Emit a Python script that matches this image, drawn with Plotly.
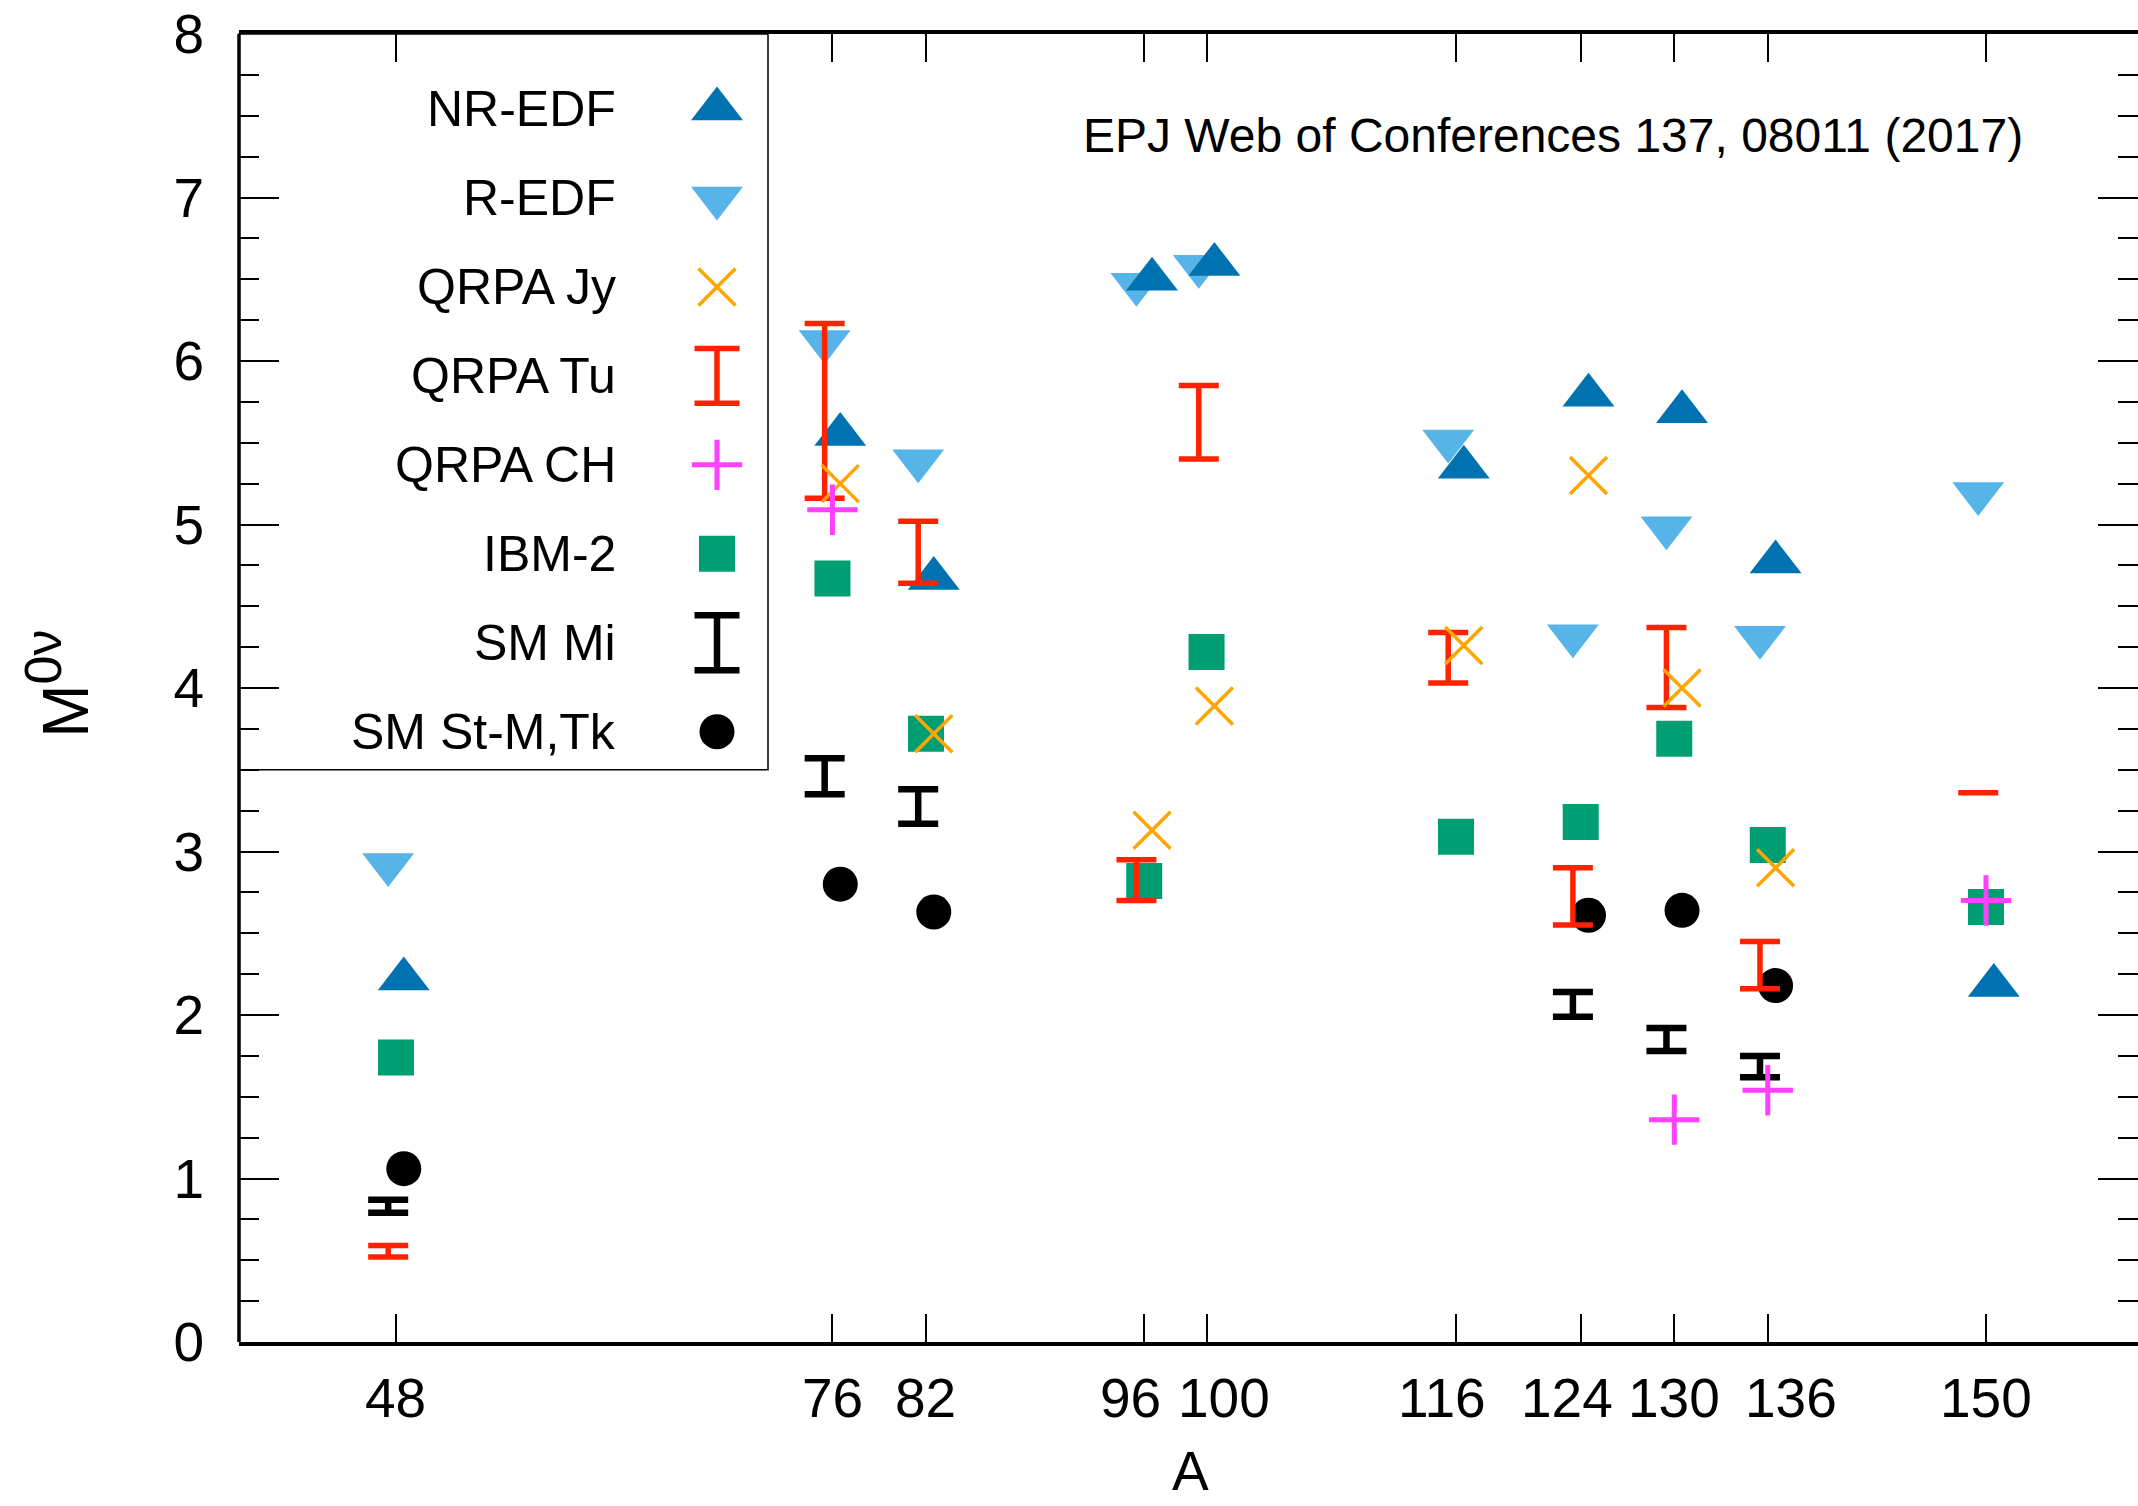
import plotly.graph_objects as go

# Mass numbers of the double-beta-decay candidates
A = [48, 76, 82, 96, 100, 116, 124, 130, 136, 150]
A_labels = ["48", "76", "82", "96", "100", "116", "124", "130", "136", "150"]

# Nuclear matrix elements M^{0nu}
nr_edf = [2.22, 5.55, 4.67, 6.50, 6.59, 5.35, 5.79, 5.69, 4.77, 2.18]
r_edf = [2.92, 6.12, 5.39, 6.47, 6.58, 5.51, 4.32, 4.98, 4.31, 5.19]

jy_A = [76, 82, 96, 100, 116, 124, 130, 136]
qrpa_jy = [5.25, 3.72, 3.13, 3.89, 4.26, 5.30, 4.00, 2.90]

# QRPA Tu: spread of results (min, max)
tu_min = [0.52, 5.16, 4.64, 2.70, 5.40, 4.03, 2.55, 3.88, 2.16, 3.36]
tu_max = [0.59, 6.23, 5.02, 2.95, 5.85, 4.34, 2.90, 4.37, 2.45, 3.36]

ch_A = [76, 130, 136, 150]
qrpa_ch = [5.09, 1.36, 1.54, 2.70]

ibm2 = [1.74, 4.67, 3.72, 2.82, 4.22, 3.09, 3.18, 3.69, 3.04, 2.66]

# Shell model Mi: spread of results (min, max)
mi_A = [48, 76, 82, 124, 130, 136]
mi_min = [0.79, 3.35, 3.17, 1.99, 1.78, 1.62]
mi_max = [0.87, 3.57, 3.38, 2.14, 1.92, 1.75]

st_A = [48, 76, 82, 124, 130, 136]
sm_st = [1.06, 2.80, 2.63, 2.61, 2.64, 2.18]

# ---- styling -------------------------------------------------------------
FONT = "Liberation Sans, Arial, Helvetica, sans-serif"
DARK_BLUE = "#0072B2"
LIGHT_BLUE = "#56B4E9"
ORANGE = "#FFA500"
RED = "#FF2200"
MAGENTA = "#FF40FF"
GREEN = "#009E73"
BLACK = "#000000"

TICK_FONT = 55
KEY_FONT = 50

# symbols are nudged sideways around each A so they do not hide each other
LEFT, MID, RIGHT = -0.5, 0.0, 0.5

# crowded tick labels are pushed apart by a few pixels
label_nudge = {96: -14, 100: 17, 116: -14, 124: -14, 136: 23}


def shifted(xs, dx):
    return [x + dx for x in xs]


def mid(lo, hi):
    return [(a + b) / 2 for a, b in zip(lo, hi)]


def half(lo, hi):
    return [(b - a) / 2 for a, b in zip(lo, hi)]


marker_nr = dict(symbol="triangle-up", size=45, color=DARK_BLUE, line=dict(width=0))
marker_r = dict(symbol="triangle-down", size=45, color=LIGHT_BLUE, line=dict(width=0))
marker_jy = dict(symbol="x-thin", size=37, color=ORANGE, line=dict(width=3.5, color=ORANGE))
marker_ch = dict(symbol="cross-thin", size=36, color=MAGENTA, line=dict(width=5, color=MAGENTA))
marker_ibm = dict(symbol="square", size=36, color=GREEN, line=dict(width=0))
marker_st = dict(symbol="circle", size=35, color=BLACK, line=dict(width=0))
marker_none = dict(size=1, color="rgba(0,0,0,0)")

bar_tu = dict(color=RED, thickness=5.5, width=20)
bar_mi = dict(color=BLACK, thickness=6.5, width=20)

fig = go.Figure()

fig.add_trace(go.Scatter(x=shifted(A, LEFT), y=r_edf, mode="markers", marker=marker_r))
fig.add_trace(go.Scatter(x=shifted(A, RIGHT), y=nr_edf, mode="markers", marker=marker_nr))
fig.add_trace(go.Scatter(x=shifted(A, MID), y=ibm2, mode="markers", marker=marker_ibm))
fig.add_trace(go.Scatter(
    x=shifted(mi_A, LEFT), y=mid(mi_min, mi_max), mode="markers", marker=marker_none,
    error_y=dict(type="data", array=half(mi_min, mi_max), symmetric=True, **bar_mi)))
fig.add_trace(go.Scatter(x=shifted(st_A, RIGHT), y=sm_st, mode="markers", marker=marker_st))
fig.add_trace(go.Scatter(
    x=shifted(A, LEFT), y=mid(tu_min, tu_max), mode="markers", marker=marker_none,
    error_y=dict(type="data", array=half(tu_min, tu_max), symmetric=True, **bar_tu)))
fig.add_trace(go.Scatter(x=shifted(jy_A, RIGHT), y=qrpa_jy, mode="markers", marker=marker_jy))
fig.add_trace(go.Scatter(x=shifted(ch_A, MID), y=qrpa_ch, mode="markers", marker=marker_ch))

# ---- key box in the upper left corner -----------------------------------
PLOT_L, PLOT_R, PLOT_T, PLOT_B = 239, 2138, 34, 1342.5
PLOT_W, PLOT_H = PLOT_R - PLOT_L, PLOT_B - PLOT_T


def px_x(px):
    return (px - PLOT_L) / PLOT_W


def px_y(py):
    return (PLOT_B - py) / PLOT_H


key_names = ["NR-EDF", "R-EDF", "QRPA Jy", "QRPA Tu", "QRPA CH", "IBM-2", "SM Mi", "SM St-M,Tk"]
key_rows = [px_y(109 + 89 * i) for i in range(len(key_names))]
key_text_x = px_x(618)
key_sym_x = px_x(717)
key_bar_half = 27.5 / PLOT_H

key_markers = {
    "NR-EDF": marker_nr, "R-EDF": marker_r, "QRPA Jy": marker_jy, "QRPA CH": marker_ch,
    "IBM-2": marker_ibm, "SM St-M,Tk": marker_st,
}
key_bars = {"QRPA Tu": dict(color=RED, thickness=5.5, width=22.5),
            "SM Mi": dict(color=BLACK, thickness=6.5, width=22.5)}

for name, ky in zip(key_names, key_rows):
    if name in key_bars:
        fig.add_trace(go.Scatter(
            x=[key_sym_x], y=[ky], mode="markers", marker=marker_none, xaxis="x2", yaxis="y2",
            error_y=dict(type="data", array=[key_bar_half], symmetric=True, **key_bars[name])))
    else:
        fig.add_trace(go.Scatter(x=[key_sym_x], y=[ky], mode="markers",
                                 marker=key_markers[name], xaxis="x2", yaxis="y2"))

annotations = [
    dict(text=name, x=key_text_x, y=ky, xref="paper", yref="paper", xanchor="right",
         yanchor="middle", showarrow=False, font=dict(size=KEY_FONT, family=FONT, color="black"))
    for name, ky in zip(key_names, key_rows)
]

# mass-number labels under the axis, placed at their A positions
annotations += [
    dict(text=lab, x=a, y=0, xref="x", yref="paper", xanchor="center", yanchor="middle",
         xshift=label_nudge.get(a, 0), yshift=-56, showarrow=False,
         font=dict(size=TICK_FONT, family=FONT, color="black"))
    for a, lab in zip(A, A_labels)
]

annotations += [
    dict(text="EPJ Web of Conferences 137, 08011 (2017)", x=px_x(1081), y=px_y(136),
         xref="paper", yref="paper", xanchor="left", yanchor="middle", showarrow=False,
         font=dict(size=48, family=FONT, color="black")),
    dict(text="A", x=px_x(1190), y=px_y(1505), xref="paper", yref="paper",
         xanchor="center", yanchor="bottom", showarrow=False,
         font=dict(size=55, family=FONT, color="black")),
    dict(text="M<sup><span style='font-size:52px'>0ν</span></sup>", x=px_x(58), y=px_y(684),
         xref="paper", yref="paper",
         xanchor="center", yanchor="middle", textangle=-90, showarrow=False,
         font=dict(size=64, family=FONT, color="black")),
]

shapes = [
    dict(type="rect", xref="paper", yref="paper", x0=0, x1=px_x(768), y0=px_y(770), y1=1,
         line=dict(color="black", width=1.5)),
    dict(type="line", xref="paper", yref="paper", x0=0, x1=0, y0=0, y1=1,
         line=dict(color="black", width=3.5)),
]

fig.update_layout(
    width=2138, height=1506,
    margin=dict(l=PLOT_L, r=0, t=PLOT_T, b=1506 - PLOT_B),
    paper_bgcolor="white", plot_bgcolor="white",
    showlegend=False,
    font=dict(family=FONT, size=48, color="black"),
    annotations=annotations,
    shapes=shapes,
    xaxis=dict(
        range=[37.93, 159.75], tickmode="array", tickvals=A, showticklabels=False,
        ticks="inside", ticklen=28, tickwidth=1.5, tickcolor="black",
        showline=True, linewidth=3.5, linecolor="black", mirror="ticks",
        showgrid=False, zeroline=False,
    ),
    yaxis=dict(
        range=[0, 8], tickmode="linear", tick0=0, dtick=1,
        ticks="inside", ticklen=40, tickwidth=1.5, tickcolor="black",
        minor=dict(dtick=0.25, ticks="inside", ticklen=20, tickwidth=1.5, tickcolor="black"),
        showline=False, mirror="ticks",
        showgrid=False, zeroline=False, tickfont=dict(size=TICK_FONT, family=FONT),
        ticklabelstandoff=34,
    ),
    xaxis2=dict(range=[0, 1], overlaying="x", visible=False, fixedrange=True),
    yaxis2=dict(range=[0, 1], overlaying="y", visible=False, fixedrange=True),
)

fig.write_html("out.html")
